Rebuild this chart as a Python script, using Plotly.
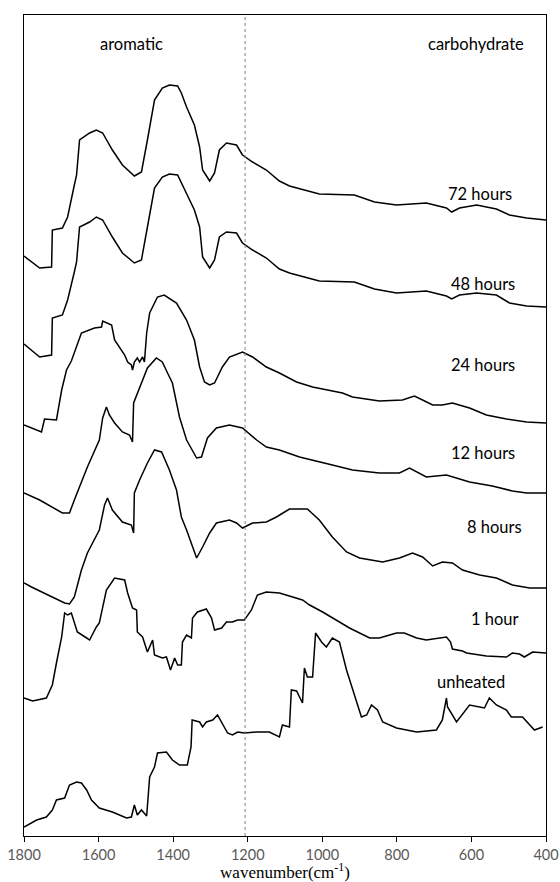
import plotly.graph_objects as go

# ---- data (wavenumber in cm-1, stacked absorbance in arbitrary units) ----
wn_72 = [1800, 1758, 1726, 1724, 1697, 1683, 1665, 1659, 1651, 1624, 1606, 1589, 1563, 1536, 1504, 1485,
         1469, 1450, 1429, 1410, 1388, 1378, 1364, 1343, 1329, 1321, 1302, 1289, 1276, 1257, 1230, 1214,
         1187, 1150, 1115, 1088, 1008, 914, 860, 801, 721, 667, 653, 632, 586, 533, 498, 452, 400]
ab_72 = [5.80, 5.68, 5.69, 6.06, 6.08, 6.19, 6.51, 6.61, 6.96, 7.03, 7.06, 7.03, 6.86, 6.71, 6.60, 6.64,
         6.96, 7.36, 7.48, 7.51, 7.50, 7.43, 7.29, 7.11, 6.89, 6.66, 6.55, 6.63, 6.86, 6.93, 6.91, 6.81,
         6.74, 6.66, 6.55, 6.50, 6.42, 6.41, 6.34, 6.31, 6.33, 6.28, 6.24, 6.28, 6.31, 6.27, 6.21, 6.18, 6.16]

wn_48 = wn_72
ab_48 = [4.92, 4.79, 4.81, 5.18, 5.21, 5.36, 5.64, 5.74, 6.09, 6.14, 6.19, 6.16, 5.99, 5.83, 5.73, 5.76,
         6.09, 6.48, 6.59, 6.62, 6.61, 6.53, 6.43, 6.26, 6.09, 5.79, 5.68, 5.76, 5.99, 6.04, 6.03, 5.93,
         5.86, 5.78, 5.67, 5.63, 5.55, 5.54, 5.47, 5.43, 5.45, 5.40, 5.37, 5.41, 5.43, 5.41, 5.33, 5.30, 5.29]

wn_24 = [1800, 1753, 1745, 1713, 1699, 1686, 1673, 1646, 1611, 1592, 1589, 1576, 1565, 1557, 1538, 1530,
         1522, 1512, 1509, 1504, 1496, 1490, 1482, 1477, 1471, 1463, 1442, 1424, 1391, 1364, 1343, 1329,
         1316, 1302, 1289, 1276, 1268, 1249, 1214, 1187, 1150, 1115, 1069, 1026, 946, 919, 847, 785, 753,
         731, 704, 678, 651, 605, 560, 506, 452, 400]
ab_24 = [4.11, 4.04, 4.17, 4.16, 4.46, 4.66, 4.75, 5.03, 5.08, 5.09, 5.15, 5.13, 5.11, 4.96, 4.86, 4.81,
         4.74, 4.71, 4.66, 4.74, 4.78, 4.74, 4.79, 4.74, 5.03, 5.23, 5.39, 5.41, 5.33, 5.16, 4.96, 4.69,
         4.54, 4.51, 4.53, 4.64, 4.69, 4.79, 4.84, 4.79, 4.69, 4.63, 4.54, 4.49, 4.43, 4.39, 4.35, 4.36, 4.40,
         4.36, 4.31, 4.31, 4.33, 4.28, 4.21, 4.17, 4.14, 4.13]

wn_12 = [1800, 1758, 1697, 1678, 1665, 1651, 1630, 1598, 1589, 1579, 1571, 1557, 1536, 1517, 1509, 1506,
         1490, 1469, 1445, 1429, 1415, 1402, 1383, 1364, 1337, 1324, 1308, 1284, 1249, 1214, 1176, 1150,
         1115, 1061, 973, 919, 847, 793, 766, 739, 721, 667, 605, 544, 490, 452, 400]
ab_12 = [3.43, 3.36, 3.23, 3.23, 3.36, 3.49, 3.69, 3.96, 4.18, 4.29, 4.21, 4.13, 4.04, 4.01, 3.94, 4.33,
         4.49, 4.68, 4.78, 4.74, 4.63, 4.53, 4.19, 3.96, 3.78, 3.79, 3.98, 4.08, 4.11, 4.08, 3.96, 3.89,
         3.86, 3.79, 3.71, 3.66, 3.63, 3.63, 3.68, 3.63, 3.59, 3.61, 3.54, 3.50, 3.45, 3.43, 3.43]

wn_8 = [1800, 1780, 1691, 1678, 1665, 1646, 1630, 1598, 1584, 1576, 1563, 1536, 1512, 1506, 1504, 1490,
        1469, 1450, 1431, 1410, 1391, 1378, 1364, 1337, 1321, 1302, 1284, 1249, 1230, 1214, 1187, 1150,
        1123, 1088, 1040, 1008, 973, 935, 900, 838, 793, 758, 731, 704, 678, 651, 624, 578, 533, 490, 444, 400]
ab_8 = [2.53, 2.49, 2.33, 2.32, 2.39, 2.66, 2.83, 3.06, 3.31, 3.38, 3.26, 3.14, 3.11, 3.03, 3.43, 3.56,
        3.73, 3.86, 3.84, 3.66, 3.46, 3.19, 3.06, 2.78, 2.89, 3.03, 3.13, 3.16, 3.13, 3.08, 3.13, 3.14,
        3.19, 3.27, 3.27, 3.16, 2.99, 2.84, 2.78, 2.74, 2.78, 2.83, 2.79, 2.70, 2.74, 2.73, 2.66, 2.61, 2.58, 2.51, 2.48, 2.48]

wn_1 = [1800, 1777, 1740, 1724, 1713, 1699, 1691, 1683, 1673, 1657, 1632, 1624, 1606, 1598, 1579, 1557,
        1530, 1522, 1509, 1498, 1496, 1482, 1469, 1455, 1450, 1429, 1418, 1407, 1396, 1388, 1378, 1375,
        1364, 1351, 1348, 1335, 1311, 1297, 1289, 1270, 1257, 1241, 1227, 1209, 1190, 1174, 1150, 1115,
        1053, 1034, 999, 962, 927, 873, 847, 801, 780, 747, 721, 667, 656, 651, 624, 613, 560, 506, 490,
        471, 458, 436, 400]
ab_1 = [1.38, 1.35, 1.38, 1.51, 1.73, 1.99, 2.23, 2.21, 2.23, 2.04, 1.98, 1.96, 2.09, 2.13, 2.46, 2.58,
        2.56, 2.43, 2.28, 2.26, 2.04, 1.99, 1.84, 1.96, 1.81, 1.78, 1.79, 1.66, 1.78, 1.71, 1.71, 1.94,
        2.01, 1.98, 2.18, 2.24, 2.27, 2.18, 2.06, 2.08, 2.14, 2.14, 2.16, 2.16, 2.26, 2.41, 2.44, 2.43,
        2.36, 2.31, 2.24, 2.16, 2.08, 1.98, 1.98, 2.03, 2.03, 1.98, 1.96, 1.99, 1.94, 1.87, 1.85, 1.83,
        1.80, 1.79, 1.83, 1.82, 1.79, 1.84, 1.83]

wn_0 = [1800, 1766, 1740, 1724, 1713, 1691, 1678, 1659, 1646, 1632, 1619, 1598, 1563, 1525, 1512, 1504,
        1496, 1485, 1471, 1463, 1450, 1442, 1418, 1402, 1383, 1362, 1352, 1349, 1329, 1321, 1311, 1294,
        1281, 1270, 1254, 1241, 1227, 1209, 1174, 1142, 1115, 1107, 1088, 1083, 1069, 1053, 1048, 1040,
        1026, 1018, 1002, 989, 973, 954, 935, 895, 881, 868, 852, 838, 801, 747, 694, 678, 667, 664, 640,
        605, 565, 552, 533, 506, 493, 463, 431, 409]
ab_0 = [0.09, 0.16, 0.19, 0.26, 0.36, 0.38, 0.51, 0.54, 0.53, 0.46, 0.36, 0.28, 0.24, 0.18, 0.19, 0.31,
        0.21, 0.26, 0.20, 0.59, 0.69, 0.83, 0.84, 0.76, 0.71, 0.71, 0.89, 1.16, 1.14, 1.09, 1.14, 1.16,
        1.21, 1.14, 1.03, 1.01, 1.04, 1.03, 1.04, 1.04, 0.99, 1.11, 1.09, 1.46, 1.45, 1.33, 1.68, 1.59,
        1.59, 2.03, 1.94, 1.89, 1.98, 1.94, 1.66, 1.19, 1.21, 1.31, 1.26, 1.14, 1.08, 1.04, 1.06, 1.16,
        1.38, 1.29, 1.14, 1.31, 1.28, 1.38, 1.31, 1.26, 1.19, 1.19, 1.06, 1.09]

series = [
    ("72 hours", wn_72, ab_72),
    ("48 hours", wn_48, ab_48),
    ("24 hours", wn_24, ab_24),
    ("12 hours", wn_12, ab_12),
    ("8 hours", wn_8, ab_8),
    ("1 hour", wn_1, ab_1),
    ("unheated", wn_0, ab_0),
]

label_names = ["72 hours", "48 hours", "24 hours", "12 hours", "8 hours", "1 hour", "unheated"]
label_wn = [578, 568, 568, 570, 538, 538, 600]
label_ab = [6.42, 5.52, 4.71, 3.83, 3.09, 2.17, 1.54]

region_names = ["aromatic", "carbohydrate"]
region_wn = [1512, 588]
region_ab = [7.92, 7.92]

divider_wn = 1207
x_ticks = [1800, 1600, 1400, 1200, 1000, 800, 600, 400]

fig = go.Figure()
for name, x, y in series:
    fig.add_trace(go.Scatter(x=x, y=y, mode="lines", name=name,
                             line=dict(color="black", width=1.5), showlegend=False,
                             hoverinfo="skip"))

fig.add_shape(type="line", xref="x", yref="paper", x0=divider_wn, x1=divider_wn, y0=0, y1=1,
              line=dict(color="#7f7f7f", width=1, dash="dot"))

for t, x, y in zip(label_names, label_wn, label_ab):
    fig.add_annotation(x=x, y=y, text=t, showarrow=False,
                       font=dict(family="Lato", size=16.5, color="black"))
for t, x, y in zip(region_names, region_wn, region_ab):
    fig.add_annotation(x=x, y=y, text=t, showarrow=False,
                       font=dict(family="Lato", size=16.5, color="black"))

fig.update_layout(
    width=560, height=882,
    margin=dict(l=24, r=14, t=15, b=46, autoexpand=False),
    paper_bgcolor="white", plot_bgcolor="white",
    showlegend=False,
)
fig.update_xaxes(
    range=[1800, 400], tickvals=x_ticks, ticks="outside", ticklen=5, tickwidth=1.2,
    tickcolor="black", showline=True, linecolor="black", linewidth=1.3, mirror=True,
    showgrid=False, zeroline=False, automargin=False,
    tickfont=dict(family="Lato", size=14.5, color="#595959"),
    title=dict(text="wavenumber(cm<sup>-1</sup>)", standoff=5,
               font=dict(family="Liberation Serif", size=17, color="black")),
)
fig.update_yaxes(
    range=[0, 8.21], showticklabels=False, ticks="", showline=True, linecolor="black",
    linewidth=1.3, mirror=True, showgrid=False, zeroline=False, automargin=False,
)

fig.write_html("out.html", config={"displayModeBar": False},
               post_script="document.body.style.margin='0';")
